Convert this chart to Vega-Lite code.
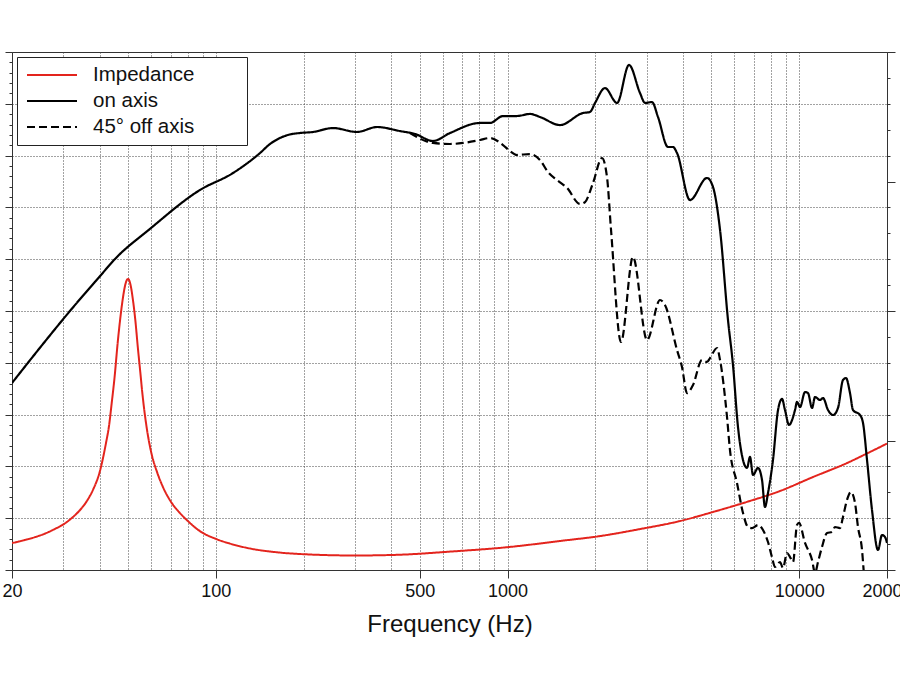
{
  "$schema": "https://vega.github.io/schema/vega-lite/v6.json",
  "width": 875,
  "height": 518,
  "autosize": {"type": "none"},
  "padding": {"left": 12, "top": 52, "right": 13, "bottom": 105},
  "background": "white",
  "config": {
    "font": "Liberation Sans",
    "view": {"stroke": "#333", "strokeWidth": 1},
    "axis": {"domainColor": "#333", "tickColor": "#333", "labelColor": "#111", "titleColor": "#111"},
    "legend": {"strokeWidth": 1}
  },
  "datasets": {
    "impedance": [
      {"freq": 20, "ohms": 10.4, "series": "Impedance"},
      {"freq": 22, "ohms": 11.5, "series": "Impedance"},
      {"freq": 24, "ohms": 12.7, "series": "Impedance"},
      {"freq": 26, "ohms": 14.1, "series": "Impedance"},
      {"freq": 28, "ohms": 15.8, "series": "Impedance"},
      {"freq": 30, "ohms": 17.6, "series": "Impedance"},
      {"freq": 32, "ohms": 20.0, "series": "Impedance"},
      {"freq": 34, "ohms": 22.8, "series": "Impedance"},
      {"freq": 36, "ohms": 26.4, "series": "Impedance"},
      {"freq": 38, "ohms": 31.2, "series": "Impedance"},
      {"freq": 40, "ohms": 38.0, "series": "Impedance"},
      {"freq": 42, "ohms": 49.0, "series": "Impedance"},
      {"freq": 43, "ohms": 55.5, "series": "Impedance"},
      {"freq": 44, "ohms": 65.0, "series": "Impedance"},
      {"freq": 45, "ohms": 75.0, "series": "Impedance"},
      {"freq": 46, "ohms": 87.0, "series": "Impedance"},
      {"freq": 47, "ohms": 97.0, "series": "Impedance"},
      {"freq": 48, "ohms": 105.0, "series": "Impedance"},
      {"freq": 49, "ohms": 110.5, "series": "Impedance"},
      {"freq": 50, "ohms": 112.4, "series": "Impedance"},
      {"freq": 51, "ohms": 110.0, "series": "Impedance"},
      {"freq": 52, "ohms": 104.0, "series": "Impedance"},
      {"freq": 53, "ohms": 96.0, "series": "Impedance"},
      {"freq": 54, "ohms": 86.0, "series": "Impedance"},
      {"freq": 55, "ohms": 77.0, "series": "Impedance"},
      {"freq": 56, "ohms": 68.0, "series": "Impedance"},
      {"freq": 58, "ohms": 54.5, "series": "Impedance"},
      {"freq": 60, "ohms": 45.5, "series": "Impedance"},
      {"freq": 63, "ohms": 37.5, "series": "Impedance"},
      {"freq": 66, "ohms": 31.8, "series": "Impedance"},
      {"freq": 70, "ohms": 26.5, "series": "Impedance"},
      {"freq": 75, "ohms": 22.2, "series": "Impedance"},
      {"freq": 80, "ohms": 19.0, "series": "Impedance"},
      {"freq": 88.2, "ohms": 15.0, "series": "Impedance"},
      {"freq": 100, "ohms": 12.0, "series": "Impedance"},
      {"freq": 111.8, "ohms": 10.2, "series": "Impedance"},
      {"freq": 131, "ohms": 8.3, "series": "Impedance"},
      {"freq": 160, "ohms": 6.9, "series": "Impedance"},
      {"freq": 200, "ohms": 6.1, "series": "Impedance"},
      {"freq": 300, "ohms": 5.6, "series": "Impedance"},
      {"freq": 428, "ohms": 5.9, "series": "Impedance"},
      {"freq": 635, "ohms": 7.1, "series": "Impedance"},
      {"freq": 1019, "ohms": 8.9, "series": "Impedance"},
      {"freq": 1513, "ohms": 11.2, "series": "Impedance"},
      {"freq": 2076, "ohms": 13.1, "series": "Impedance"},
      {"freq": 2846, "ohms": 15.8, "series": "Impedance"},
      {"freq": 3902, "ohms": 18.9, "series": "Impedance"},
      {"freq": 5064, "ohms": 22.4, "series": "Impedance"},
      {"freq": 6622, "ohms": 26.3, "series": "Impedance"},
      {"freq": 8594, "ohms": 30.5, "series": "Impedance"},
      {"freq": 11152, "ohms": 35.9, "series": "Impedance"},
      {"freq": 14586, "ohms": 41.3, "series": "Impedance"},
      {"freq": 17082, "ohms": 45.0, "series": "Impedance"},
      {"freq": 20000, "ohms": 48.8, "series": "Impedance"}
    ],
    "response": [
      {"freq": 20, "level": 68.05, "series": "on axis"},
      {"freq": 24.9, "level": 71.43, "series": "on axis"},
      {"freq": 31.6, "level": 75.0, "series": "on axis"},
      {"freq": 40.1, "level": 78.38, "series": "on axis"},
      {"freq": 45.1, "level": 80.02, "series": "on axis"},
      {"freq": 59.4, "level": 82.92, "series": "on axis"},
      {"freq": 88.2, "level": 86.68, "series": "on axis"},
      {"freq": 114.5, "level": 88.32, "series": "on axis"},
      {"freq": 141.7, "level": 90.25, "series": "on axis"},
      {"freq": 153, "level": 91.1, "series": "on axis"},
      {"freq": 165.9, "level": 91.7, "series": "on axis"},
      {"freq": 180, "level": 92.05, "series": "on axis"},
      {"freq": 194.3, "level": 92.18, "series": "on axis"},
      {"freq": 215.4, "level": 92.28, "series": "on axis"},
      {"freq": 252.2, "level": 92.66, "series": "on axis"},
      {"freq": 304.8, "level": 92.28, "series": "on axis"},
      {"freq": 356.8, "level": 92.76, "series": "on axis"},
      {"freq": 427.9, "level": 92.37, "series": "on axis"},
      {"freq": 481.6, "level": 92.09, "series": "on axis"},
      {"freq": 555.2, "level": 91.41, "series": "on axis"},
      {"freq": 635, "level": 92.18, "series": "on axis"},
      {"freq": 804.6, "level": 93.15, "series": "on axis"},
      {"freq": 871, "level": 93.15, "series": "on axis"},
      {"freq": 965, "level": 93.82, "series": "on axis"},
      {"freq": 1077, "level": 93.82, "series": "on axis"},
      {"freq": 1194, "level": 94.02, "series": "on axis"},
      {"freq": 1292, "level": 93.73, "series": "on axis"},
      {"freq": 1513, "level": 92.95, "series": "on axis"},
      {"freq": 1814, "level": 94.11, "series": "on axis"},
      {"freq": 1917, "level": 94.21, "series": "on axis"},
      {"freq": 1995, "level": 95.08, "series": "on axis"},
      {"freq": 2158, "level": 96.52, "series": "on axis"},
      {"freq": 2374, "level": 95.08, "series": "on axis"},
      {"freq": 2610, "level": 98.75, "series": "on axis"},
      {"freq": 2846, "level": 96.04, "series": "on axis"},
      {"freq": 2962, "level": 95.08, "series": "on axis"},
      {"freq": 3129, "level": 95.17, "series": "on axis"},
      {"freq": 3280, "level": 93.73, "series": "on axis"},
      {"freq": 3550, "level": 90.83, "series": "on axis"},
      {"freq": 3693, "level": 90.83, "series": "on axis"},
      {"freq": 3811, "level": 90.25, "series": "on axis"},
      {"freq": 4223, "level": 85.71, "series": "on axis"},
      {"freq": 4830, "level": 87.84, "series": "on axis"},
      {"freq": 5064, "level": 86.97, "series": "on axis"},
      {"freq": 5353, "level": 82.82, "series": "on axis"},
      {"freq": 5700, "level": 74.13, "series": "on axis"},
      {"freq": 5929, "level": 69.79, "series": "on axis"},
      {"freq": 6168, "level": 63.8, "series": "on axis"},
      {"freq": 6417, "level": 60.62, "series": "on axis"},
      {"freq": 6622, "level": 59.85, "series": "on axis"},
      {"freq": 6782, "level": 60.91, "series": "on axis"},
      {"freq": 6944, "level": 59.17, "series": "on axis"},
      {"freq": 7223, "level": 59.85, "series": "on axis"},
      {"freq": 7456, "level": 58.69, "series": "on axis"},
      {"freq": 7632, "level": 56.08, "series": "on axis"},
      {"freq": 7816, "level": 57.43, "series": "on axis"},
      {"freq": 8130, "level": 60.62, "series": "on axis"},
      {"freq": 8460, "level": 65.44, "series": "on axis"},
      {"freq": 8730, "level": 66.51, "series": "on axis"},
      {"freq": 8940, "level": 65.44, "series": "on axis"},
      {"freq": 9226, "level": 64.0, "series": "on axis"},
      {"freq": 9674, "level": 65.44, "series": "on axis"},
      {"freq": 9828, "level": 66.22, "series": "on axis"},
      {"freq": 10064, "level": 65.73, "series": "on axis"},
      {"freq": 10470, "level": 67.18, "series": "on axis"},
      {"freq": 10720, "level": 67.08, "series": "on axis"},
      {"freq": 11066, "level": 65.64, "series": "on axis"},
      {"freq": 11332, "level": 66.7, "series": "on axis"},
      {"freq": 11788, "level": 66.41, "series": "on axis"},
      {"freq": 12070, "level": 66.6, "series": "on axis"},
      {"freq": 12556, "level": 65.44, "series": "on axis"},
      {"freq": 13062, "level": 64.96, "series": "on axis"},
      {"freq": 13584, "level": 65.64, "series": "on axis"},
      {"freq": 14130, "level": 68.34, "series": "on axis"},
      {"freq": 14470, "level": 68.53, "series": "on axis"},
      {"freq": 14934, "level": 67.08, "series": "on axis"},
      {"freq": 15292, "level": 65.44, "series": "on axis"},
      {"freq": 16162, "level": 64.96, "series": "on axis"},
      {"freq": 16550, "level": 64.19, "series": "on axis"},
      {"freq": 17082, "level": 60.62, "series": "on axis"},
      {"freq": 17768, "level": 55.79, "series": "on axis"},
      {"freq": 18628, "level": 51.93, "series": "on axis"},
      {"freq": 19226, "level": 53.38, "series": "on axis"},
      {"freq": 19686, "level": 53.19, "series": "on axis"},
      {"freq": 20000, "level": 52.61, "series": "on axis"},
      {"freq": 463, "level": 92.18, "series": "45° off axis"},
      {"freq": 555, "level": 91.22, "series": "45° off axis"},
      {"freq": 635, "level": 91.12, "series": "45° off axis"},
      {"freq": 704, "level": 91.22, "series": "45° off axis"},
      {"freq": 805, "level": 91.51, "series": "45° off axis"},
      {"freq": 871, "level": 91.7, "series": "45° off axis"},
      {"freq": 965, "level": 91.02, "series": "45° off axis"},
      {"freq": 1019, "level": 90.44, "series": "45° off axis"},
      {"freq": 1077, "level": 90.06, "series": "45° off axis"},
      {"freq": 1194, "level": 90.15, "series": "45° off axis"},
      {"freq": 1292, "level": 89.58, "series": "45° off axis"},
      {"freq": 1376, "level": 88.42, "series": "45° off axis"},
      {"freq": 1478, "level": 87.64, "series": "45° off axis"},
      {"freq": 1600, "level": 86.87, "series": "45° off axis"},
      {"freq": 1772, "level": 85.33, "series": "45° off axis"},
      {"freq": 1844, "level": 85.52, "series": "45° off axis"},
      {"freq": 1963, "level": 87.35, "series": "45° off axis"},
      {"freq": 2108, "level": 89.77, "series": "45° off axis"},
      {"freq": 2193, "level": 87.93, "series": "45° off axis"},
      {"freq": 2264, "level": 82.82, "series": "45° off axis"},
      {"freq": 2449, "level": 72.01, "series": "45° off axis"},
      {"freq": 2692, "level": 80.21, "series": "45° off axis"},
      {"freq": 3008, "level": 72.2, "series": "45° off axis"},
      {"freq": 3332, "level": 76.06, "series": "45° off axis"},
      {"freq": 3466, "level": 75.58, "series": "45° off axis"},
      {"freq": 3811, "level": 71.24, "series": "45° off axis"},
      {"freq": 3964, "level": 69.59, "series": "45° off axis"},
      {"freq": 4124, "level": 67.08, "series": "45° off axis"},
      {"freq": 4324, "level": 67.86, "series": "45° off axis"},
      {"freq": 4642, "level": 70.27, "series": "45° off axis"},
      {"freq": 4830, "level": 70.08, "series": "45° off axis"},
      {"freq": 4946, "level": 70.46, "series": "45° off axis"},
      {"freq": 5227, "level": 71.43, "series": "45° off axis"},
      {"freq": 5353, "level": 70.27, "series": "45° off axis"},
      {"freq": 5656, "level": 64.77, "series": "45° off axis"},
      {"freq": 5790, "level": 61.58, "series": "45° off axis"},
      {"freq": 6120, "level": 58.4, "series": "45° off axis"},
      {"freq": 6417, "level": 55.5, "series": "45° off axis"},
      {"freq": 6676, "level": 54.15, "series": "45° off axis"},
      {"freq": 6888, "level": 54.05, "series": "45° off axis"},
      {"freq": 7223, "level": 54.34, "series": "45° off axis"},
      {"freq": 7514, "level": 53.86, "series": "45° off axis"},
      {"freq": 7816, "level": 52.7, "series": "45° off axis"},
      {"freq": 8066, "level": 51.25, "series": "45° off axis"},
      {"freq": 8260, "level": 50.29, "series": "45° off axis"},
      {"freq": 8594, "level": 50.77, "series": "45° off axis"},
      {"freq": 8800, "level": 50.19, "series": "45° off axis"},
      {"freq": 9082, "level": 51.64, "series": "45° off axis"},
      {"freq": 9300, "level": 51.25, "series": "45° off axis"},
      {"freq": 9524, "level": 50.77, "series": "45° off axis"},
      {"freq": 9828, "level": 54.34, "series": "45° off axis"},
      {"freq": 9986, "level": 54.54, "series": "45° off axis"},
      {"freq": 10470, "level": 52.61, "series": "45° off axis"},
      {"freq": 11066, "level": 50.97, "series": "45° off axis"},
      {"freq": 11332, "level": 49.7, "series": "45° off axis"},
      {"freq": 11600, "level": 50.77, "series": "45° off axis"},
      {"freq": 11970, "level": 52.22, "series": "45° off axis"},
      {"freq": 12456, "level": 53.57, "series": "45° off axis"},
      {"freq": 12958, "level": 53.67, "series": "45° off axis"},
      {"freq": 13268, "level": 54.15, "series": "45° off axis"},
      {"freq": 13802, "level": 54.05, "series": "45° off axis"},
      {"freq": 14130, "level": 55.12, "series": "45° off axis"},
      {"freq": 14586, "level": 56.76, "series": "45° off axis"},
      {"freq": 15052, "level": 57.53, "series": "45° off axis"},
      {"freq": 15536, "level": 56.47, "series": "45° off axis"},
      {"freq": 15908, "level": 54.15, "series": "45° off axis"},
      {"freq": 16420, "level": 51.93, "series": "45° off axis"},
      {"freq": 16680, "level": 49.5, "series": "45° off axis"},
      {"freq": 16944, "level": 47.0, "series": "45° off axis"}
    ]
  },
  "layer": [
    {
      "data": {"name": "impedance"},
      "mark": {"type": "line", "interpolate": "monotone", "strokeWidth": 2, "clip": true},
      "encoding": {
        "x": {
          "field": "freq", "type": "quantitative",
          "scale": {"type": "log", "domain": [20, 20000]},
          "axis": {
            "title": "Frequency (Hz)",
            "titleFontSize": 24, "titleFontWeight": "normal", "titlePadding": 12,
            "values": [20, 30, 40, 50, 60, 70, 80, 90, 100, 200, 300, 400, 500, 600, 700, 800, 900, 1000, 2000, 3000, 4000, 5000, 6000, 7000, 8000, 9000, 10000, 20000],
            "format": "d",
            "labelExpr": "indexof([20, 100, 500, 1000, 10000, 20000], datum.value) >= 0 ? datum.label : ''",
            "labelFontSize": 18, "labelPadding": 4, "labelFlush": false, "labelOverlap": false, "labelBound": false,
            "tickSize": 8,
            "tickOpacity": {"condition": {"test": "indexof([20, 100, 500, 1000, 10000, 20000], datum.value) >= 0", "value": 1}, "value": 0},
            "grid": true, "gridDash": [1, 2], "gridColor": "#444", "gridWidth": 1,
            "gridOpacity": {"condition": {"test": "datum.value <= 20 || datum.value >= 20000", "value": 0}, "value": 1}
          }
        },
        "y": {
          "field": "ohms", "type": "quantitative",
          "scale": {"domain": [0, 200]},
          "axis": {
            "orient": "right", "title": null, "labels": false, "grid": false,
            "values": [0, 10, 20, 30, 40, 50, 60, 70, 80, 90, 100, 110, 120, 130, 140, 150, 160, 170, 180, 190, 200],
            "tickSize": {"condition": {"test": "datum.value % 50 === 0", "value": 8}, "value": 3}
          }
        },
        "color": {
          "field": "series", "type": "nominal",
          "scale": {"domain": ["Impedance", "on axis", "45° off axis"], "range": ["#e3241d", "#000000", "#000000"]},
          "legend": {
            "title": null, "orient": "none", "legendX": 5, "legendY": 5,
            "symbolType": "M-0.8,0H4.2", "symbolSize": 400, "symbolStrokeWidth": 2,
            "labelFontSize": 20.5, "labelColor": "#111", "labelOffset": 47,
            "labelExpr": "datum.label + '\u00a0\u00a0\u00a0\u00a0\u00a0\u00a0\u00a0\u00a0\u200b'",
            "fillColor": "white", "strokeColor": "#222", "padding": 7, "rowPadding": 4
          }
        },
        "strokeDash": {
          "field": "series", "type": "nominal",
          "scale": {"domain": ["Impedance", "on axis", "45° off axis"], "range": [[1, 0], [1, 0], [8, 4]]},
          "legend": {
            "title": null, "orient": "none", "legendX": 5, "legendY": 5,
            "symbolType": "M-0.8,0H4.2", "symbolSize": 400, "symbolStrokeWidth": 2,
            "labelFontSize": 20.5, "labelColor": "#111", "labelOffset": 47,
            "labelExpr": "datum.label + '\u00a0\u00a0\u00a0\u00a0\u00a0\u00a0\u00a0\u00a0\u200b'",
            "fillColor": "white", "strokeColor": "#222", "padding": 7, "rowPadding": 4
          }
        }
      }
    },
    {
      "data": {"name": "response"},
      "mark": {"type": "line", "interpolate": "monotone", "strokeWidth": 2.2, "clip": true},
      "encoding": {
        "x": {"field": "freq", "type": "quantitative", "scale": {"type": "log", "domain": [20, 20000]}},
        "y": {
          "field": "level", "type": "quantitative",
          "scale": {"domain": [50, 100]},
          "axis": {
            "orient": "left", "title": null, "labels": false,
            "values": [50, 51, 52, 53, 54, 55, 56, 57, 58, 59, 60, 61, 62, 63, 64, 65, 66, 67, 68, 69, 70, 71, 72, 73, 74, 75, 76, 77, 78, 79, 80, 81, 82, 83, 84, 85, 86, 87, 88, 89, 90, 91, 92, 93, 94, 95, 96, 97, 98, 99, 100],
            "tickSize": {"condition": {"test": "datum.value % 5 === 0", "value": 7}, "value": 3},
            "grid": true, "gridDash": [1, 2], "gridColor": "#444", "gridWidth": 1,
            "gridOpacity": {"condition": {"test": "datum.value % 5 === 0 && datum.value > 50 && datum.value < 100", "value": 1}, "value": 0}
          }
        },
        "color": {"field": "series", "type": "nominal", "scale": {"domain": ["Impedance", "on axis", "45° off axis"], "range": ["#e3241d", "#000000", "#000000"]}},
        "strokeDash": {"field": "series", "type": "nominal", "scale": {"domain": ["Impedance", "on axis", "45° off axis"], "range": [[1, 0], [1, 0], [8, 4]]}}
      }
    }
  ],
  "resolve": {"scale": {"y": "independent"}}
}
